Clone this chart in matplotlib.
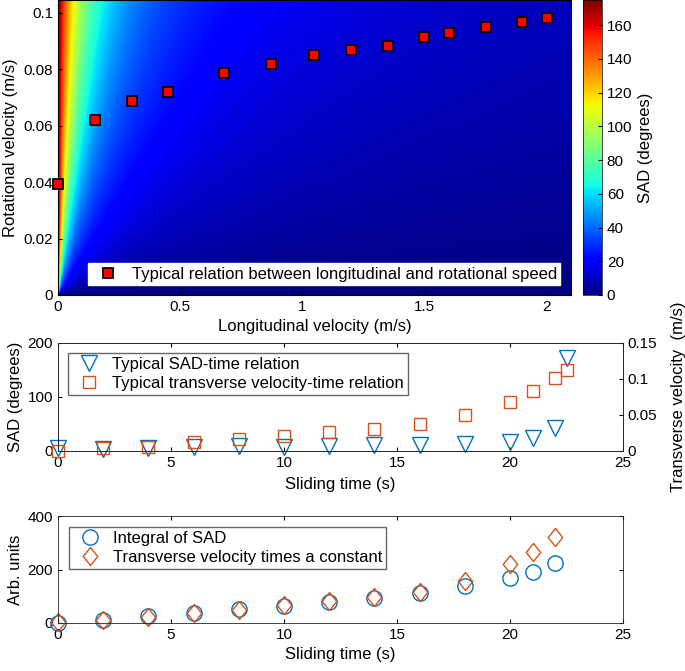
import numpy as np
import matplotlib.pyplot as plt
from matplotlib.ticker import FuncFormatter

plt.rcParams["font.family"] = ["Liberation Sans", "DejaVu Sans"]
plt.rcParams["font.size"] = 11

# Typical relation between longitudinal and rotational speed (top panel)
long_vel = [0.0, 0.152, 0.302, 0.452, 0.68, 0.872, 1.049, 1.2, 1.35, 1.5, 1.6, 1.75, 1.9, 2.0]
rot_vel = [0.0394, 0.062, 0.0687, 0.072, 0.0786, 0.0819, 0.0851, 0.0869, 0.0884,
           0.0916, 0.093, 0.0949, 0.0968, 0.0982]

# Sliding time series (middle and bottom panels)
t_mid = [0, 2, 4, 6, 8, 10, 12, 14, 16, 18, 20, 21, 22, 22.5]
sad_time = [6, 3, 6, 8, 9, 8, 9, 11, 11, 13, 17, 24, 43, 173]
trans_vel = [0.0, 0.004, 0.006, 0.012, 0.017, 0.021, 0.026, 0.031, 0.038, 0.050,
             0.068, 0.084, 0.102, 0.113]

t_bot = [0, 2, 4, 6, 8, 10, 12, 14, 16, 18, 20, 21, 22]
sad_integral = [0, 12, 27, 39, 52, 65, 78, 95, 114, 138, 170, 191, 224]
trans_scaled = [2, 12, 22, 37, 49, 68, 82, 98, 117, 156, 219, 265, 323]

# SAD surface parameters (angle grows with rotational/longitudinal ratio)
SAD_GAIN = 1.0
SAD_EXP = 0.83
SAD_MAX = 175

blue = (0.0, 0.447, 0.741)
orange = (0.85, 0.325, 0.098)
axcol = "0.15"
gfmt = FuncFormatter(lambda v, p: f"{v:g}")
diamond = [(0, 1), (0.8, 0), (0, -1), (-0.8, 0), (0, 1)]

fig = plt.figure(figsize=(6.85, 6.71), dpi=100)

# ---- top: SAD map ----
ax1 = fig.add_axes([58 / 685, 1 - 295 / 671, 513 / 685, 295 / 671])
xg = np.linspace(0, 2.1, 700)
yg = np.linspace(0, 0.1046, 400)
X, Y = np.meshgrid(xg, yg)
ratio = Y / np.maximum(X, 1e-5)
sad = 2 * np.degrees(np.arctan(SAD_GAIN * ratio ** SAD_EXP))
im = ax1.imshow(sad, origin="lower", extent=[0, 2.1, 0, 0.1046], aspect="auto",
                cmap="jet", vmin=0, vmax=SAD_MAX, interpolation="bilinear")
ax1.plot(long_vel, rot_vel, "s", color="red", markeredgecolor="black",
         markeredgewidth=1.3, markersize=7.5, clip_on=False, zorder=5,
         label="Typical relation between longitudinal and rotational speed")
ax1.set_xlim(0, 2.1)
ax1.set_ylim(0, 0.1046)
ax1.set_xticks([0, 0.5, 1, 1.5, 2])
ax1.set_yticks([0, 0.02, 0.04, 0.06, 0.08, 0.1])
ax1.xaxis.set_major_formatter(gfmt)
ax1.yaxis.set_major_formatter(gfmt)
ax1.tick_params(direction="in", length=3)
ax1.set_xlabel("Longitudinal velocity (m/s)", fontsize=12, labelpad=4)
ax1.set_ylabel("Rotational velocity (m/s)", fontsize=12, labelpad=4)
ax1.legend(loc="lower right", bbox_to_anchor=(0.979, 0.034), borderaxespad=0,
           fancybox=False, edgecolor="white", framealpha=1, fontsize=12,
           handletextpad=0.4, borderpad=0.2)

cax = fig.add_axes([583 / 685, 1 - 295 / 671, 19 / 685, 295 / 671])
cb = fig.colorbar(im, cax=cax)
cb.set_ticks(range(0, 161, 20))
cb.ax.tick_params(direction="in", length=3)
cb.set_label("SAD (degrees)", fontsize=12)
cb.outline.set_linewidth(0.5)

# ---- middle: SAD and transverse velocity vs time ----
ax2 = fig.add_axes([58 / 685, 1 - 451 / 671, 565 / 685, 108 / 671])
ax2.plot(t_mid, sad_time, "v", color=blue, markerfacecolor="none", clip_on=False,
         markersize=11, markeredgewidth=1, label="Typical SAD-time relation")
ax2.set_xlim(0, 25)
ax2.set_ylim(0, 200)
ax2.set_yticks([0, 100, 200])
ax2.tick_params(direction="in", length=3, top=True)
ax2.set_xlabel("Sliding time (s)", fontsize=12, labelpad=5)
ax2.set_ylabel("SAD (degrees)", fontsize=12, labelpad=3)

ax2r = ax2.twinx()
ax2r.plot(t_mid, trans_vel, "s", color=orange, markerfacecolor="none", clip_on=False,
          markersize=8, markeredgewidth=1,
          label="Typical transverse velocity-time relation")
ax2r.set_ylim(0, 0.15)
ax2r.set_yticks([0, 0.05, 0.1, 0.15])
ax2r.yaxis.set_major_formatter(gfmt)
ax2r.tick_params(direction="in", length=3)
ax2r.set_ylabel("Transverse velocity  (m/s)", fontsize=12)
ax2r.yaxis.set_label_coords((671 - 58) / 565, 0.5)

h1, l1 = ax2.get_legend_handles_labels()
h2, l2 = ax2r.get_legend_handles_labels()
ax2r.legend(h1 + h2, l1 + l2, loc="upper left", bbox_to_anchor=(0.018, 0.907),
            borderaxespad=0, fancybox=False, edgecolor="0.4", framealpha=1,
            fontsize=12, handletextpad=0.4, borderpad=0.25, labelspacing=0.2)

# ---- bottom: integral of SAD vs scaled transverse velocity ----
ax3 = fig.add_axes([58 / 685, 1 - 623 / 671, 565 / 685, 107 / 671])
ax3.plot(t_bot, sad_integral, "o", color=blue, markerfacecolor="none", clip_on=False,
         markersize=11, markeredgewidth=1, label="Integral of SAD")
ax3.plot(t_bot, trans_scaled, marker=diamond, linestyle="none", color=orange,
         markerfacecolor="none", clip_on=False, markersize=13, markeredgewidth=1,
         label="Transverse velocity times a constant")
ax3.set_xlim(0, 25)
ax3.set_ylim(0, 400)
ax3.set_yticks([0, 200, 400])
ax3.tick_params(direction="in", length=3, right=True, top=True)
ax3.set_xlabel("Sliding time (s)", fontsize=12, labelpad=4)
ax3.set_ylabel("Arb. units", fontsize=12, labelpad=3)
ax3.legend(loc="upper left", bbox_to_anchor=(0.019, 0.897), borderaxespad=0,
           fancybox=False, edgecolor="0.4", framealpha=1, fontsize=12,
           handletextpad=0.4, borderpad=0.25, labelspacing=0.2)

for ax in (ax2, ax2r, ax3):
    for s in ax.spines.values():
        s.set_linewidth(0.6)
        s.set_color(axcol)

fig.savefig("out.png", dpi=100)
